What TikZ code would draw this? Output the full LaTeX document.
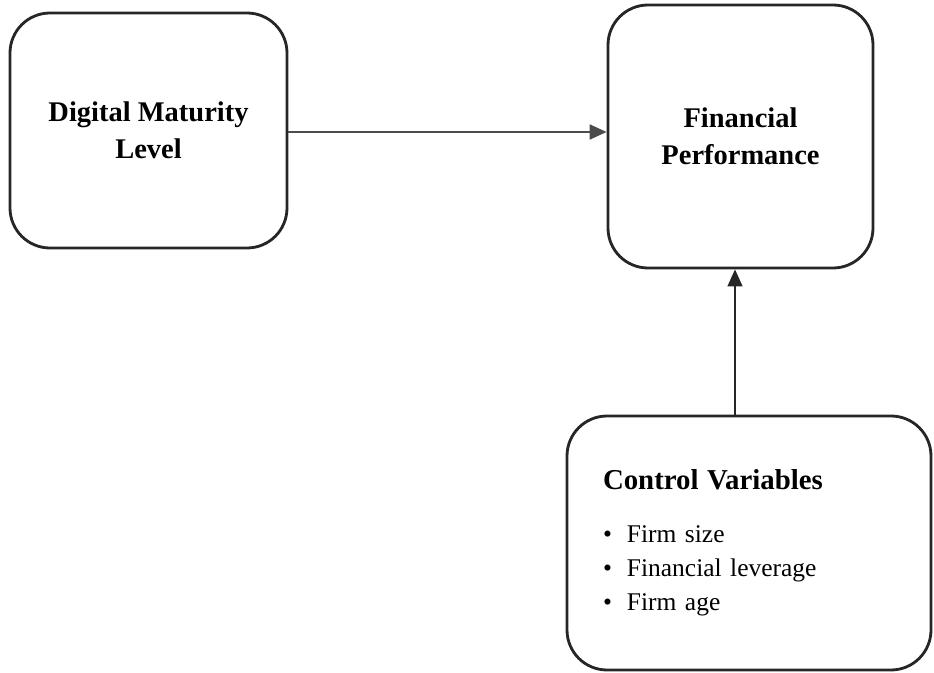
\documentclass[tikz,border=0pt]{standalone}
\usepackage{fontspec}
\setmainfont{Liberation Serif}
\usepackage{tikz}
\usetikzlibrary{arrows.meta, positioning, calc}

\begin{document}
\begin{tikzpicture}[
    box/.style={rectangle, rounded corners=0.8cm, draw=black!85, line width=1.6pt, fill=white,
                align=center, font=\fontsize{16.2}{21}\selectfont\bfseries},
    arr/.style={-{Triangle[length=0.34cm, width=0.3cm]}, line width=1.2pt, black!70}
]
\useasboundingbox (0,0) rectangle (18.68,-13.46);
\node[box, minimum width=5.54cm, minimum height=4.7cm] (dml) at (2.97,-2.61) {Digital Maturity\\Level};
\node[box, minimum width=5.3cm, minimum height=5.26cm] (fp) at (14.81,-2.73) {Financial\\Performance};
\node[box, minimum width=7.28cm, minimum height=5.08cm, text width=5.84cm, inner xsep=0.72cm,
      align=left, font=\fontsize{14.5}{19.5}\selectfont] (ctrl) at (14.98,-10.86)
    {{\fontsize{16.4}{19.5}\selectfont\bfseries Control Variables}\\[0.36cm]
     \textbullet\hspace{0.3cm}Firm size\\
     \textbullet\hspace{0.3cm}Financial leverage\\
     \textbullet\hspace{0.3cm}Firm age};

\coordinate (dmlout) at ($(dml.east)+(0,-0.03)$);
\coordinate (ctrlout) at ($(ctrl.north)+(-0.28,0)$);
\draw[arr] (dmlout) -- (dmlout -| fp.west);
\draw[arr, line width=0.8pt, black!85] (ctrlout) -- (ctrlout |- fp.south);
\end{tikzpicture}
\end{document}
